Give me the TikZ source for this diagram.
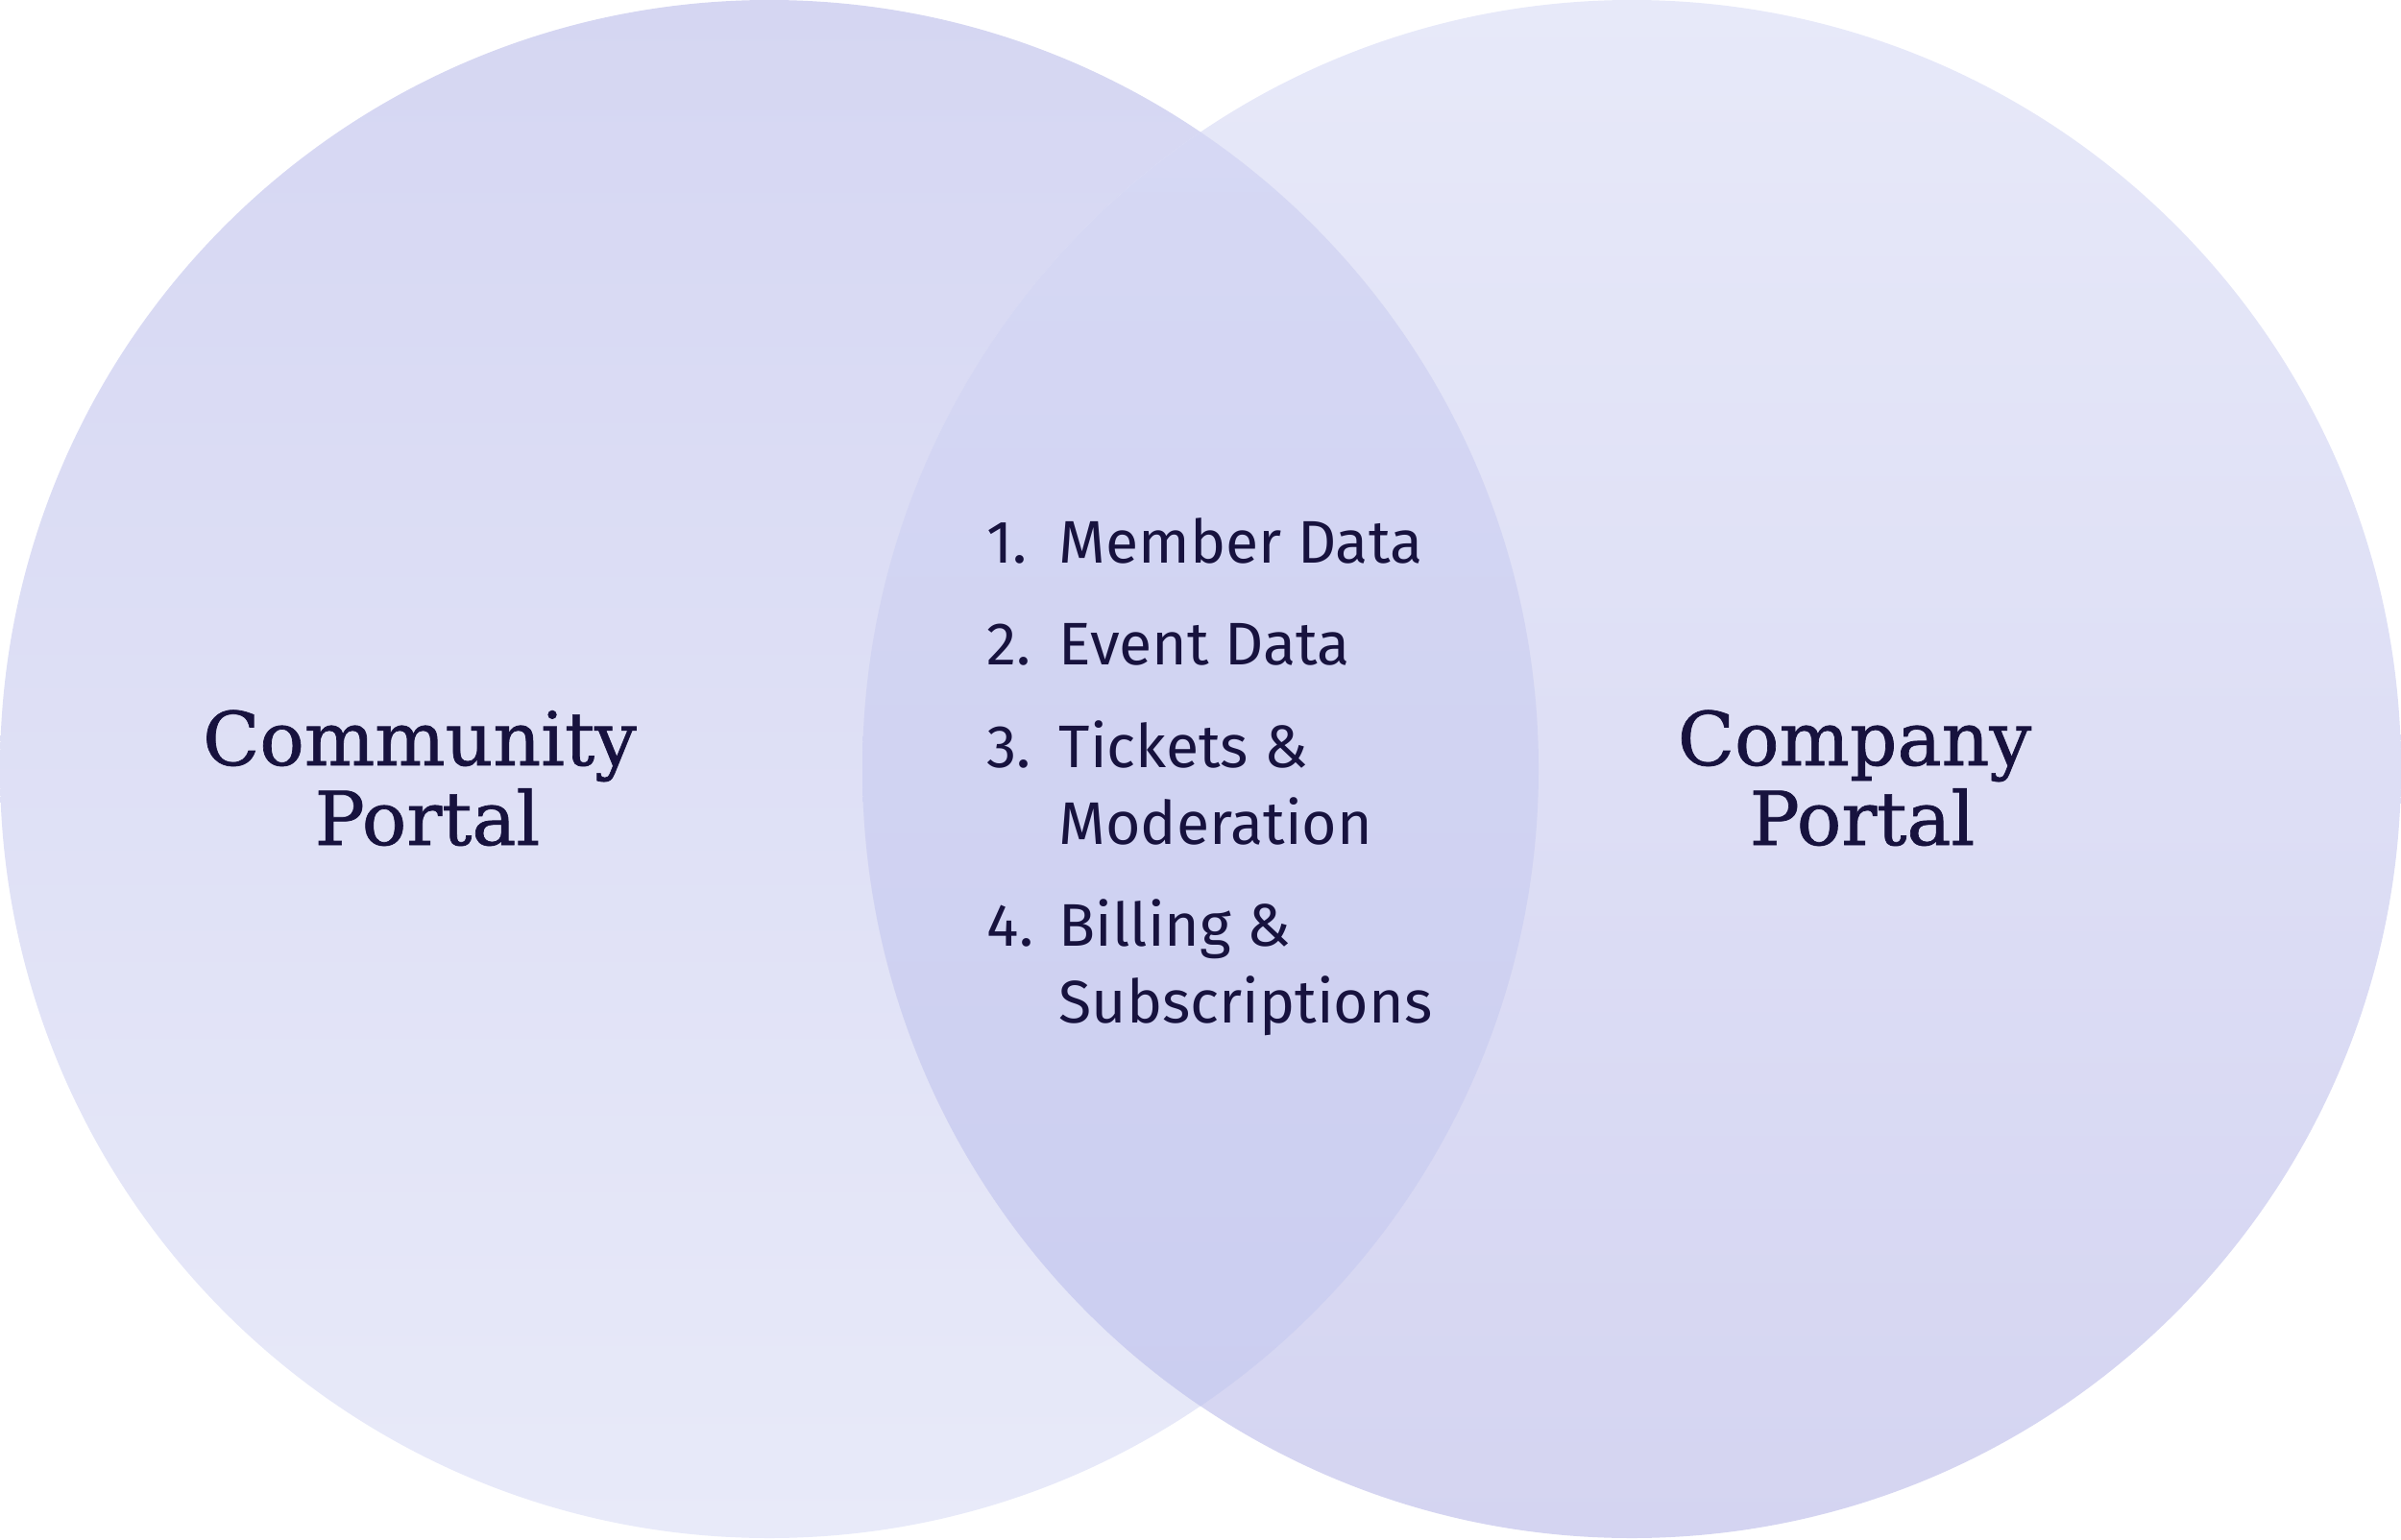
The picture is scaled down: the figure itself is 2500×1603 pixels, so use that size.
\documentclass[tikz,border=0pt]{standalone}
\usepackage{fontspec}
\newfontfamily\titlefont[FakeBold=0.9]{DejaVu Serif}
\newfontfamily\listfont{Fira Sans}
\definecolor{ink}{HTML}{17123E}
\definecolor{lTop}{HTML}{D5D6F2}
\definecolor{lBot}{HTML}{E8EAF9}
\definecolor{rTop}{HTML}{E7E9F9}
\definecolor{rBot}{HTML}{D4D4F1}
\definecolor{iTop}{HTML}{D7D9F4}
\definecolor{iMid}{HTML}{D0D2F1}
\definecolor{iBot}{HTML}{CACDF0}
\begin{document}
\begin{tikzpicture}[x=0.01cm,y=-0.01cm,
  title/.style={font=\titlefont\fontsize{22}{26}\selectfont, text=ink, inner sep=0, anchor=base},
  item/.style={font=\listfont\fontsize{17.8}{21}\selectfont, text=ink, inner sep=0, anchor=base west}]
\useasboundingbox (0,0) rectangle (2500,1603);
\shade[top color=lTop, bottom color=lBot] (801,801) circle [radius=801];
\shade[top color=rTop, bottom color=rBot] (1699,801) circle [radius=801];
\begin{scope}
  \clip (801,801) circle [radius=801];
  \shade[top color=iTop, middle color=iMid, bottom color=iBot] (1699,801) circle [radius=801];
\end{scope}
\node[title] (comm1) at (437,797) {Community};
\node[title] (comm2) at (445,880) {Portal};
\node[title] (comp1) at (1931,797) {Company};
\node[title] (comp2) at (1939,880) {Portal};
\node[item] (n1) at (1027,586) {1.};
\node[item] (n2) at (1027,692) {2.};
\node[item] (n3) at (1027,799) {3.};
\node[item] (n4) at (1027,985) {4.};
\node[item] (t1) at (1102,586) {Member Data};
\node[item] (t2) at (1102,692) {Event Data};
\node[item] (t3a) at (1102,799) {Tickets \&};
\node[item] (t3b) at (1102,879) {Moderation};
\node[item] (t4a) at (1102,985) {Billing \&};
\node[item] (t4b) at (1102,1065) {Subscriptions};
\end{tikzpicture}
\end{document}
